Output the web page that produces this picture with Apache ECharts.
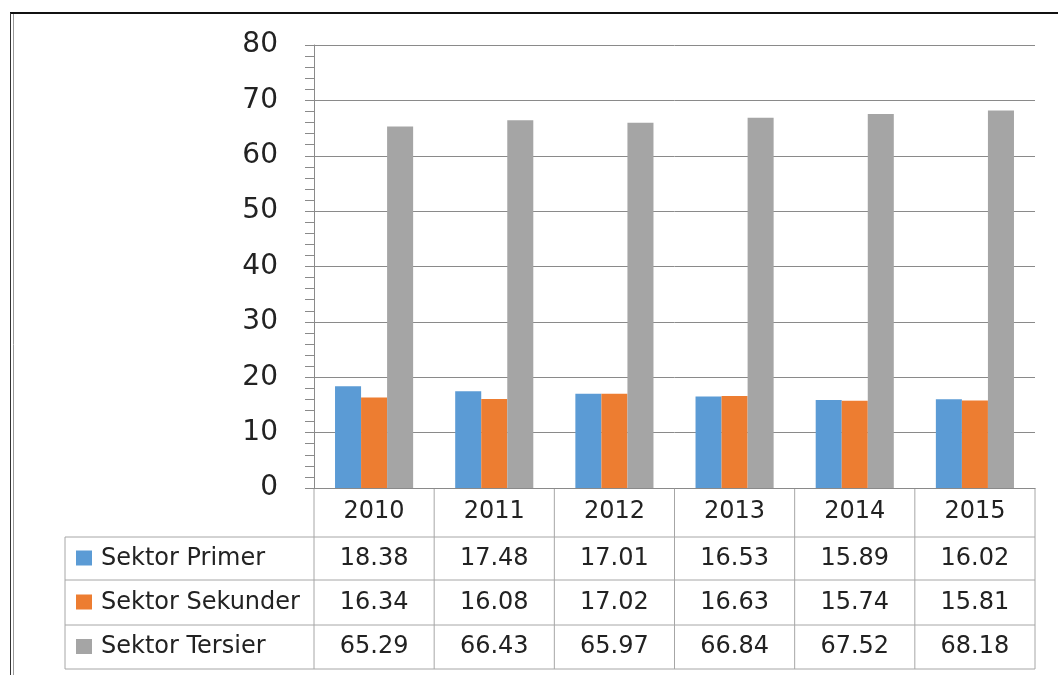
<!DOCTYPE html>
<html>
<head>
<meta charset="utf-8">
<script src="https://cdn.jsdelivr.net/npm/echarts@6/dist/echarts.min.js"></script>
<style>
  html, body { margin: 0; padding: 0; background: #fff; }
  #chart { width: 1058px; height: 675px; }
</style>
</head>
<body>
<div id="chart"></div>
<script>
  // data
  var years = ['2010', '2011', '2012', '2013', '2014', '2015'];
  var primer = [18.38, 17.48, 17.01, 16.53, 15.89, 16.02];
  var sekunder = [16.34, 16.08, 17.02, 16.63, 15.74, 15.81];
  var tersier = [65.29, 66.43, 65.97, 66.84, 67.52, 68.18];
  var seriesNames = ['Sektor Primer', 'Sektor Sekunder', 'Sektor Tersier'];
  var seriesData = [primer, sekunder, tersier];
  var colors = ['#5B9BD5', '#ED7D31', '#A5A5A5'];

  var font = 'DejaVu Sans';
  var textColor = '#222';
  var lineColor = '#8a8a8a';
  var tableLine = '#a6a6a6';

  var chart = echarts.init(document.getElementById('chart'));

  var option = {
    animation: false,
    backgroundColor: '#fff',
    grid: { left: 314, right: 23, top: 45, bottom: 187 },
    xAxis: {
      type: 'category',
      data: years,
      axisLine: { lineStyle: { color: lineColor } },
      axisTick: { show: false },
      axisLabel: { fontFamily: font, fontSize: 24, color: textColor, margin: 12 }
    },
    yAxis: {
      type: 'value',
      min: 0, max: 80, interval: 10,
      axisLine: { show: true, lineStyle: { color: lineColor } },
      axisTick: { show: true, length: 9, lineStyle: { color: lineColor } },
      minorTick: { show: true, splitNumber: 5, length: 9, lineStyle: { color: lineColor } },
      splitLine: { lineStyle: { color: lineColor } },
      axisLabel: { fontFamily: font, fontSize: 28, color: textColor, margin: 36 }
    },
    series: seriesData.map(function (d, i) {
      return {
        name: seriesNames[i],
        type: 'bar',
        data: d,
        barGap: '0%',
        barCategoryGap: '35%',
        itemStyle: { color: colors[i] }
      };
    })
  };

  chart.setOption(option);

  // data table under the axis, placed from the axis scale
  var rowTops = [537, 580, 625, 669];
  var axisY = chart.convertToPixel({ yAxisIndex: 0 }, 0);
  var centers = years.map(function (y, i) { return chart.convertToPixel({ xAxisIndex: 0 }, i); });
  var band = centers.length > 1 ? centers[1] - centers[0] : 120;
  var tableLeft = 65;
  var tableRight = centers[centers.length - 1] + band / 2;
  var g = [];

  // horizontal lines
  rowTops.forEach(function (y) {
    g.push({ type: 'line', shape: { x1: tableLeft, y1: y, x2: tableRight, y2: y },
      style: { stroke: tableLine, lineWidth: 1 } });
  });
  // vertical lines
  g.push({ type: 'line', shape: { x1: tableLeft, y1: rowTops[0], x2: tableLeft, y2: rowTops[3] },
    style: { stroke: tableLine, lineWidth: 1 } });
  for (var i = 0; i <= years.length; i++) {
    var x = centers[0] - band / 2 + i * band;
    g.push({ type: 'line', shape: { x1: x, y1: axisY, x2: x, y2: rowTops[3] },
      style: { stroke: tableLine, lineWidth: 1 } });
  }
  // rows: legend key + values
  seriesData.forEach(function (d, r) {
    var cy = (rowTops[r] + rowTops[r + 1]) / 2;
    g.push({ type: 'rect', shape: { x: 76, y: cy - 8, width: 16, height: 15 },
      style: { fill: colors[r] } });
    g.push({ type: 'text', x: 101, y: cy, style: { text: seriesNames[r], font: '24px ' + font,
      fill: textColor, verticalAlign: 'middle' } });
    d.forEach(function (v, c) {
      g.push({ type: 'text', x: centers[c], y: cy, style: { text: v.toFixed(2), font: '24px ' + font,
        fill: textColor, align: 'center', verticalAlign: 'middle' } });
    });
  });
  // outer frame
  g.push({ type: 'line', shape: { x1: 10, y1: 13, x2: 1058, y2: 13 }, style: { stroke: '#111', lineWidth: 2 } });
  g.push({ type: 'line', shape: { x1: 10.5, y1: 13, x2: 10.5, y2: 675 }, style: { stroke: '#333', lineWidth: 1 } });
  g.push({ type: 'line', shape: { x1: 13.5, y1: 14, x2: 13.5, y2: 675 }, style: { stroke: '#999', lineWidth: 1 } });

  chart.setOption({ graphic: g });
</script>
</body>
</html>
